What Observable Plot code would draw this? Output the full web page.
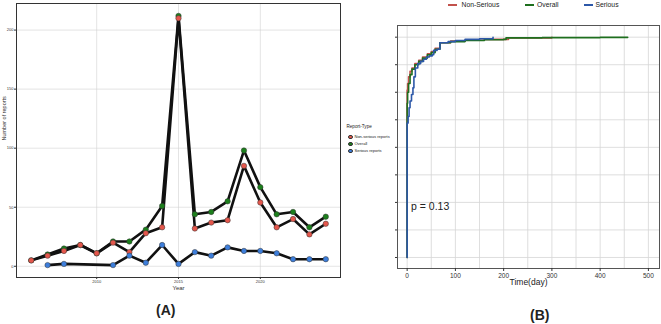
<!DOCTYPE html>
<html>
<head>
<meta charset="utf-8">
<script src="https://cdn.jsdelivr.net/npm/d3@7"></script>
<script src="https://cdn.jsdelivr.net/npm/@observablehq/plot@0.6"></script>
<style>
  html, body { margin: 0; padding: 0; background: #fff; }
  #page { position: relative; width: 661px; height: 324px; overflow: hidden; font-family: "Liberation Sans", Arial, sans-serif; color: #222; }
  .abs { position: absolute; white-space: nowrap; line-height: 1; }
  .panel { position: absolute; top: 0; }
  .dot { position: absolute; width: 4.2px; height: 4.2px; border-radius: 50%; box-sizing: border-box; border: 0.5px solid #333; }
  .seg { position: absolute; height: 2px; }
</style>
</head>
<body>
<div id="page">
  <div id="panelA" class="panel" style="left:0"></div>
  <div id="panelB" class="panel" style="left:360px"></div>

  <!-- legend for panel A -->
  <div class="abs" style="left:346.5px; top:124.5px; font-size:4.6px;">Report-Type</div>
  <div class="dot" style="left:348.4px; top:134.5px; background:#E4574C"></div>
  <div class="abs" style="left:354.5px; top:134.7px; font-size:4px;">Non-serious reports</div>
  <div class="dot" style="left:348.4px; top:141.9px; background:#1C7F1C"></div>
  <div class="abs" style="left:354.5px; top:142.1px; font-size:4px;">Overall</div>
  <div class="dot" style="left:348.4px; top:149.2px; background:#3D7EDB"></div>
  <div class="abs" style="left:354.5px; top:149.4px; font-size:4px;">Serious reports</div>

  <!-- legend for panel B -->
  <div class="seg" style="left:448px; top:4px; width:9px; background:#C2524C"></div>
  <div class="abs" style="left:461.5px; top:1.5px; font-size:6.8px;">Non-Serious</div>
  <div class="seg" style="left:525px; top:4px; width:9px; background:#1E6F1E"></div>
  <div class="abs" style="left:537px; top:1.5px; font-size:6.8px;">Overall</div>
  <div class="seg" style="left:584px; top:4px; width:9px; background:#2D58A8"></div>
  <div class="abs" style="left:595.5px; top:1.5px; font-size:6.8px;">Serious</div>

  <!-- panel tags -->
  <div class="abs" style="left:156px; top:303px; font-size:14px; font-weight:bold;">(A)</div>
  <div class="abs" style="left:530px; top:308px; font-size:14px; font-weight:bold;">(B)</div>
</div>
<script>
// ---- Panel A: yearly number of reports by report type ----
const years = [2006, 2007, 2008, 2009, 2010, 2011, 2012, 2013, 2014, 2015,
               2016, 2017, 2018, 2019, 2020, 2021, 2022, 2023, 2024];
const nonSerious = [5, 9, 13, 18, 11, 20, 12, 28, 33, 210, 32, 37, 39, 85, 54, 33, 40, 27, 36];
const overall    = [5, 10, 15, 18, 11, 21, 21, 31, 51, 212, 44, 46, 55, 98, 67, 44, 46, 33, 42];
const seriousYears = [2007, 2008, 2011, 2012, 2013, 2014, 2015, 2016, 2017, 2018,
                      2019, 2020, 2021, 2022, 2023, 2024];
const serious      = [1, 2, 1, 9, 3, 18, 2, 12, 9, 16, 13, 13, 11, 6, 6, 6];
const yearTicks = [2010, 2015, 2020];
const countTicks = [0, 50, 100, 150, 200];

// ---- Panel B: cumulative proportion of reports over time since onset ----
// [day, cumulative proportion]
const curveNonSerious = [[0, 0], [0, 0.76], [1, 0.79], [3, 0.82], [6, 0.845], [10, 0.86], [16, 0.88],
  [24, 0.895], [32, 0.91], [42, 0.925], [50, 0.935], [58, 0.95], [68, 0.975], [90, 0.982],
  [120, 0.986], [160, 0.99], [210, 0.997], [300, 1.0]];
const curveOverall = [[0, 0], [0, 0.70], [1, 0.75], [3, 0.79], [6, 0.83], [10, 0.855], [16, 0.875],
  [24, 0.89], [32, 0.905], [42, 0.92], [50, 0.93], [58, 0.945], [68, 0.975], [90, 0.98],
  [120, 0.985], [160, 0.988], [200, 0.99], [205, 0.997], [280, 0.998], [400, 0.999], [457, 1.0]];
const curveSerious = [[0, 0], [0, 0.61], [2, 0.64], [4, 0.68], [6, 0.71], [9, 0.74], [12, 0.77],
  [14, 0.82], [17, 0.86], [22, 0.88], [28, 0.89], [34, 0.9], [40, 0.91], [46, 0.915], [52, 0.92],
  [55, 0.94], [62, 0.945], [68, 0.975], [85, 0.98], [100, 0.985], [120, 0.99], [150, 0.993], [178, 1.0]];
const dayTicks = [0, 100, 200, 300, 400, 500];
const dayGrid = [0, 50, 100, 150, 200, 250, 300, 350, 400, 450, 500];
const propGrid = [0, 0.125, 0.25, 0.375, 0.5, 0.625, 0.75, 0.875, 1];
const pValue = "p = 0.13";

const font = "Liberation Sans, Arial, sans-serif";
const red = "#E4574C", green = "#1C7F1C", blue = "#3D7EDB";

const rowsOf = (xs, ys) => xs.map((x, i) => ({year: x, n: ys[i]}));
const overallRows = rowsOf(years, overall);
const nonSeriousRows = rowsOf(years, nonSerious);
const seriousRows = rowsOf(seriousYears, serious);

const chartA = Plot.plot({
  width: 345, height: 295,
  marginLeft: 16, marginRight: 5, marginTop: 3, marginBottom: 18,
  style: {fontFamily: font, background: "transparent", color: "#333"},
  x: {domain: [2005.1, 2024.9]},
  y: {domain: [-9.5, 222.5]},
  marks: [
    Plot.gridX(yearTicks, {stroke: "#d2d2d2", strokeOpacity: 1, strokeWidth: 0.6}),
    Plot.gridY(countTicks, {stroke: "#d2d2d2", strokeOpacity: 1, strokeWidth: 0.6}),
    Plot.line(overallRows, {x: "year", y: "n", stroke: "#111", strokeWidth: 2.6}),
    Plot.line(nonSeriousRows, {x: "year", y: "n", stroke: "#111", strokeWidth: 2.6}),
    Plot.line(seriousRows, {x: "year", y: "n", stroke: "#111", strokeWidth: 2.6}),
    Plot.dot(overallRows, {x: "year", y: "n", r: 2.7, fill: green, stroke: "#333", strokeWidth: 0.5}),
    Plot.dot(nonSeriousRows, {x: "year", y: "n", r: 2.7, fill: red, stroke: "#333", strokeWidth: 0.5}),
    Plot.dot(seriousRows, {x: "year", y: "n", r: 2.7, fill: blue, stroke: "#333", strokeWidth: 0.5}),
    Plot.frame({stroke: "#333", strokeWidth: 1}),
    Plot.axisX(yearTicks, {tickSize: 2, tickPadding: 1, fontSize: 4, label: null, tickFormat: d => String(d)}),
    Plot.axisY(countTicks, {tickSize: 2, tickPadding: 1, fontSize: 4, label: null}),
    Plot.text(["Year"], {text: d => d, frameAnchor: "bottom", dy: 12, fontSize: 6, fill: "#333"}),
    Plot.text(["Number of reports"], {text: d => d, frameAnchor: "left", rotate: -90, dx: -12, fontSize: 5.5, fill: "#333"})
  ]
});
document.getElementById("panelA").appendChild(chartA);

const rowsB = (pts) => pts.map(([day, prop]) => ({day, prop}));

const chartB = Plot.plot({
  width: 301, height: 295,
  marginLeft: 37, marginRight: 2, marginTop: 25, marginBottom: 27,
  style: {fontFamily: font, background: "transparent", color: "#333"},
  x: {domain: [-20, 523]},
  y: {domain: [-0.05, 1.053]},
  marks: [
    Plot.gridX(dayGrid, {stroke: "#d6d6d6", strokeOpacity: 1, strokeWidth: 0.8}),
    Plot.gridY(propGrid, {stroke: "#d6d6d6", strokeOpacity: 1, strokeWidth: 0.8}),
    Plot.line(rowsB(curveNonSerious), {x: "day", y: "prop", curve: "step-after", stroke: "#C2524C", strokeWidth: 1.6}),
    Plot.line(rowsB(curveOverall), {x: "day", y: "prop", curve: "step-after", stroke: "#1E6F1E", strokeWidth: 1.6}),
    Plot.line(rowsB(curveSerious), {x: "day", y: "prop", curve: "step-after", stroke: "#2D58A8", strokeWidth: 1.6}),
    Plot.frame({stroke: "#555", strokeWidth: 1}),
    Plot.axisX(dayTicks, {tickSize: 3, tickPadding: 1.5, fontSize: 6.5, label: null}),
    Plot.axisY(propGrid, {tickSize: 2, tickFormat: () => "", label: null}),
    Plot.text([{day: 8, prop: 0.232, label: pValue}], {x: "day", y: "prop", text: "label", textAnchor: "start", fontSize: 10.5, fill: "#222"}),
    Plot.text(["Time(day)"], {text: d => d, frameAnchor: "bottom", dy: 16, fontSize: 8.5, fill: "#222"})
  ]
});
document.getElementById("panelB").appendChild(chartB);
</script>
</body>
</html>
